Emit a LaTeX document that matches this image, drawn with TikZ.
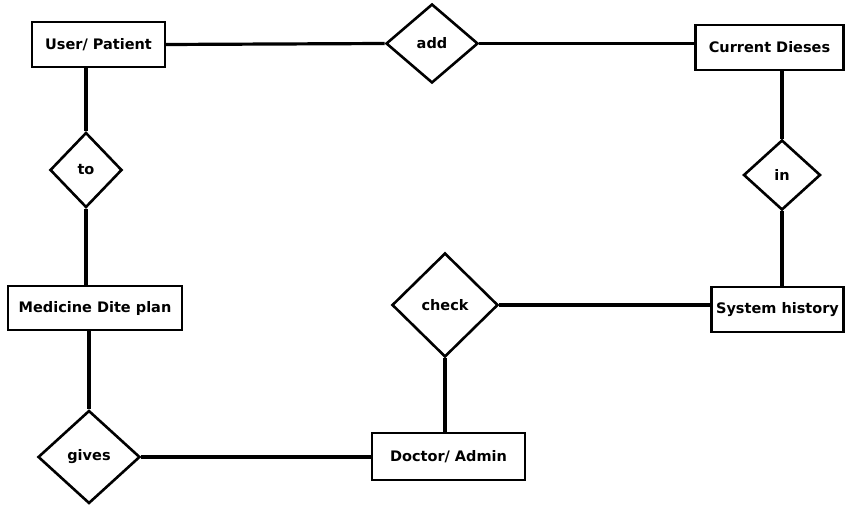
\documentclass[tikz,border=0pt]{standalone}
\usepackage{fontspec}
\setmainfont{DejaVu Sans}
\usetikzlibrary{shapes.geometric}

\tikzset{
  ent/.style={draw,line width=2.2pt,fill=white,inner sep=2pt,
    font=\fontsize{14.5}{17}\selectfont\bfseries},
  rel/.style={draw,diamond,line width=2.6pt,fill=white,inner sep=1pt,
    font=\fontsize{14.5}{17}\selectfont\bfseries},
  link/.style={line width=3.2pt}
}

\begin{document}
\begin{tikzpicture}[x=1pt,y=-1pt]

\useasboundingbox (0,0) rectangle (846,505);

% entities
\node[ent,minimum width=133,minimum height=45] (user) at (98.5,44.5) {User/ Patient};
\node[ent,minimum width=148,minimum height=45] (dis) at (769.5,47.5) {Current Dieses};
\node[ent,minimum width=132,minimum height=45] (hist) at (777.5,309.5) {System history};
\node[ent,minimum width=174,minimum height=44] (med) at (95,308) {Medicine Dite plan};
\node[ent,minimum width=153,minimum height=47] (doc) at (448.5,456.5) {Doctor/ Admin};

% relations
\node[rel,minimum width=92,minimum height=79] (add) at (432,43.5) {add};
\node[rel,minimum width=72,minimum height=75] (to) at (86,170) {to};
\node[rel,minimum width=77,minimum height=70] (in) at (782,175) {in};
\node[rel,minimum width=106,minimum height=104] (check) at (445,305) {check};
\node[rel,minimum width=102,minimum height=93] (gives) at (89,457) {gives};

% links
\draw[link] (user.east) -- (add.west);
\draw[link] (add.east) -- (add.east -| dis.west);
\draw[link] (in.north) -- (in.north |- dis.south);
\draw[link] (in.south) -- (in.south |- hist.north);
\draw[link] (check.east) -- (check.east -| hist.west);
\draw[link] (check.south) -- (check.south |- doc.north);
\draw[link] (gives.east) -- (gives.east -| doc.west);
\draw[link] (gives.north) -- (gives.north |- med.south);
\draw[link] (to.south) -- (to.south |- med.north);
\draw[link] (to.north) -- (to.north |- user.south);

\end{tikzpicture}
\end{document}
